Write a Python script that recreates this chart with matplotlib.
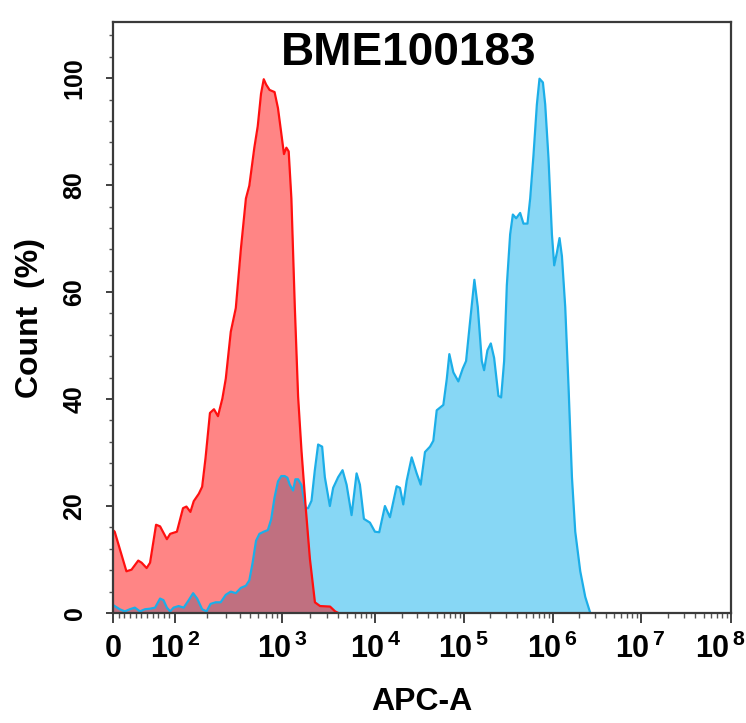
import numpy as np
import matplotlib
matplotlib.use("Agg")
import matplotlib.pyplot as plt
import matplotlib.transforms as mtransforms
from matplotlib.ticker import FixedLocator, MultipleLocator

plt.rcParams['font.family'] = ['Liberation Sans', 'DejaVu Sans']
plt.rcParams['font.weight'] = 'bold'
plt.rcParams['mathtext.fontset'] = 'custom'
plt.rcParams['mathtext.rm'] = 'Liberation Sans:bold'
plt.rcParams['mathtext.bf'] = 'Liberation Sans:bold'

# x is in display channels of the biexponential APC-A axis
tick_channels = [0, 62, 169, 262, 350, 439, 527, 617]
tick_labels = ['0', r'$10^{\,2}$', r'$10^{\,3}$', r'$10^{\,4}$', r'$10^{\,5}$',
               r'$10^{\,6}$', r'$10^{\,7}$', r'$10^{\,8}$']

# control (red)
red_x = [0, 1.7, 13.4, 18.5, 25.2, 28.6, 33.6, 37.0, 43.0, 47.0, 53.8, 57.1, 63.8,
         69.9, 73.3, 77.3, 80.6, 85.7, 89.0, 92.4, 96.8, 100.8, 104.8, 109.2, 112.6,
         117.6, 122.6, 127.7, 132.7, 136.1, 141.1, 144.5, 147.8, 150.5, 152.9, 156.3,
         161.3, 164.7, 168.0, 170.7, 173.1, 175.4, 178.1, 181.5, 184.8, 188.2, 192.2,
         196.6, 201.6, 206.7, 216.7, 221.8, 225]
red_y = [15.5, 15.2, 7.8, 8.1, 9.8, 9.4, 8.4, 9.4, 16.5, 16.2, 13.8, 14.8, 15.2,
         19.6, 19.9, 18.9, 20.9, 22.3, 23.6, 29.0, 37.4, 38.1, 36.8, 40.1, 43.8,
         52.6, 57.0, 68.1, 77.5, 79.9, 87.0, 91.0, 97.1, 99.8, 98.8, 97.8,
         97.4, 94.4, 89.7, 85.8, 87.0, 86.3, 77.5, 57.3, 40.5, 30.3, 20.2,
         10.1, 2.0, 1.3, 1.2, 0.3, 0]

# BME100183 stained (blue)
blue_x = [0, 1.7, 6.7, 11.8, 16.8, 21.8, 26.9, 31.9, 37.0, 42.0, 47.0, 50.4, 53.8,
          57.1, 60.5, 65.5, 70.6, 75.6, 80.0, 84.0, 89.0, 93.4, 97.4, 102.5, 107.5,
          112.6, 117.6, 122.6, 127.7, 132.7, 136.1, 139.4, 142.8, 146.2, 150.5, 154.6,
          157.9, 161.3, 164.7, 168.0, 171.4, 174.1, 176.5, 179.8, 182.1, 184.8, 188.2,
          192.2, 194.8, 198.2, 201.5, 204.8, 208.8, 211.5, 216.5, 219.8, 224.8, 229.2,
          233.2, 238.2, 243.2, 246.5, 250.5, 256.5, 261.5, 265.8, 271.5, 276.5, 283.2,
          286.5, 289.8, 293.2, 298.2, 303.2, 307.2, 311.5, 316.5, 319.8, 323.2, 329.8,
          333.2, 335.8, 339.8, 344.8, 349.2, 352.5, 356.5, 360.8, 364.2, 368.2, 370.5,
          373.8, 377.2, 380.5, 384.8, 387.5, 390.5, 393.2, 396.5, 399.2, 402.5, 406.5,
          409.8, 413.8, 416.5, 419.8, 423.2, 425.8, 429.2, 431.5, 434.8, 438.2, 440.5,
          443.2, 445.8, 448.2, 451.5, 454.8, 458.2, 461.5, 466.5, 471.5, 476.5]
blue_y = [1.5, 1.3, 0.7, 0.3, 0.7, 1.0, 0.3, 0.7, 0.8, 1.0, 2.7, 2.4, 1.0,
          0.3, 1.0, 1.3, 1.0, 2.4, 3.7, 2.7, 0.7, 0.3, 1.7, 2.0, 2.0,
          3.4, 4.0, 3.7, 4.7, 5.1, 6.1, 9.4, 13.5, 14.8, 15.2, 15.5,
          17.5, 21.6, 24.6, 25.6, 25.6, 25.3, 24.0, 22.9, 25.0, 25.0, 23.9,
          19.6, 19.6, 21.0, 26.7, 31.5, 31.1, 25.4, 20.0, 23.4, 25.4, 26.7,
          24.0, 18.3, 26.1, 24.0, 17.6, 16.9, 15.2, 15.1, 20.0, 17.9, 23.7,
          23.4, 20.3, 24.7, 29.1, 26.1, 24.0, 30.1, 31.1, 32.2, 37.9, 38.9,
          43.7, 48.4, 45.0, 43.3, 45.7, 47.1, 54.5, 62.3, 57.2, 47.1, 45.4,
          49.1, 50.4, 47.7, 40.6, 40.3, 47.1, 61.3, 70.8, 74.5, 73.8, 74.8,
          72.8, 72.8, 77.5, 85.6, 95.1, 99.9, 99.2, 95.1, 85.0, 70.8, 65.0,
          67.4, 70.1, 66.7, 57.2, 42.3, 25.4, 15.2, 7.8, 3.0, 0]

fig = plt.figure(figsize=(7.46, 7.23), dpi=100)
ax = fig.add_axes([113 / 746, 110 / 723, 618 / 746, 591 / 723])

# stained sample underneath, control on top with transparency
ax.fill_between(blue_x, blue_y, 0, color='#87d7f5', lw=0)
ax.plot(blue_x, blue_y, color='#1caee8', lw=1.6)
ax.fill_between(red_x, red_y, 0, color='#ff0000', alpha=0.48, lw=0)
ax.plot(red_x, red_y, color='#ff1010', lw=1.6)

ax.set_xlim(tick_channels[0], tick_channels[-1])
ax.set_ylim(0, 110.5)

# log-style minor ticks inside each decade, dense ticks in the linear part
minor = list(np.linspace(0, tick_channels[1], 12)[1:-1])
for i in range(1, len(tick_channels) - 1):
    a, b = tick_channels[i], tick_channels[i + 1]
    minor += [a + np.log10(k) * (b - a) for k in range(2, 10)]
ax.xaxis.set_major_locator(FixedLocator(tick_channels))
ax.xaxis.set_minor_locator(FixedLocator(minor))
ax.set_xticklabels(tick_labels)
ax.yaxis.set_major_locator(MultipleLocator(20))
ax.yaxis.set_minor_locator(MultipleLocator(4))

ax.tick_params(axis='x', which='major', direction='out', length=7, width=1.3,
               labelsize=22, pad=8, colors='#333333', labelcolor='black')
ax.tick_params(axis='x', which='minor', direction='out', length=3.5, width=1,
               colors='#555555')
ax.tick_params(axis='y', which='major', direction='out', length=5, width=1.3,
               labelsize=18, pad=14, colors='#333333', labelcolor='black')
ax.tick_params(axis='y', which='minor', direction='out', length=3, width=1,
               colors='#555555')
for lab in ax.get_yticklabels():
    lab.set_rotation(90)
    lab.set_va('center')
    lab.set_fontweight('bold')
for lab in ax.get_xticklabels():
    lab.set_fontweight('bold')
# last label sits a bit left of its tick so it stays on the canvas
last = ax.get_xticklabels()[-1]
last.set_transform(last.get_transform() +
                   mtransforms.ScaledTranslation(-10 / 100, 0, fig.dpi_scale_trans))

for side in ['left', 'right', 'top', 'bottom']:
    ax.spines[side].set_color('#3a3a3a')
    ax.spines[side].set_linewidth(1.6)

ax.set_ylabel('Count  (%)', fontsize=23, fontweight='bold', labelpad=13)
ax.set_xlabel('APC-A', fontsize=23, fontweight='bold', labelpad=16)
fig.text(409 / 746, (723 - 65) / 723, 'BME100183', fontsize=33, fontweight='bold',
         ha='center', va='baseline')

fig.savefig('out.png', dpi=100)
